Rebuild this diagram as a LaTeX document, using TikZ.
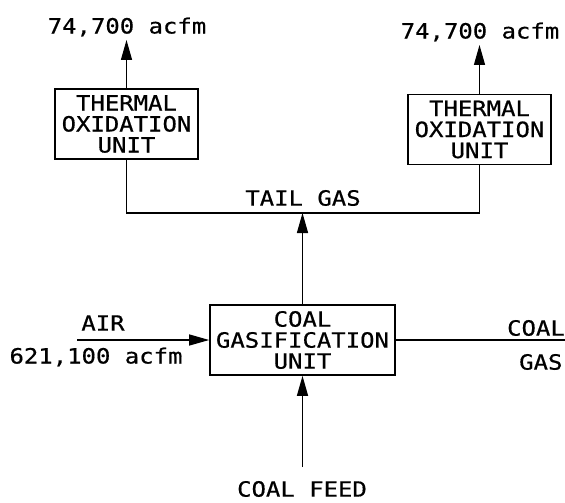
\documentclass[tikz,border=0pt]{standalone}
\usepackage{fontspec}
\newfontfamily\plotfont[FakeStretch=1.14,FakeBold=0.6]{DejaVu Sans Mono}
\usetikzlibrary{arrows.meta}
\begin{document}
\begin{tikzpicture}[x=1pt,y=-1pt,
  every node/.style={font=\plotfont\fontsize{21}{21}\selectfont, inner sep=0pt},
  unitbox/.style={draw, line width=1.6pt, align=center, minimum height=70pt},
  flow/.style={line width=1.3pt},
  arr/.style={flow, -{Triangle[length=20pt 0,width=11pt 0]}}]
\useasboundingbox (0,0) rectangle (565,503);
% boxes
\node[unitbox, minimum width=143pt] (tox1) at (126.5,124) {THERMAL\\OXIDATION\\UNIT};
\node[unitbox, minimum width=143pt] (tox2) at (479.5,129.5) {THERMAL\\OXIDATION\\UNIT};
\node[unitbox, minimum width=185pt] (cgu) at (302.5,340) {COAL\\GASIFICATION\\UNIT};
% labels
\node (out1) at (127,27) {74,700 acfm};
\node (out2) at (480,32) {74,700 acfm};
\node (tail) at (303,198) {TAIL GAS};
\node (air) at (103,323) {AIR};
\node (airflow) at (96,357) {621,100 acfm};
\node[anchor=east] (cg1) at (565,328) {COAL};
\node[anchor=west] (cg2) at (519,362) {GAS};
\node (feed) at (302,489) {COAL FEED};
% coordinates
\coordinate (top1) at (126.5,40);
\coordinate (top2) at (479.5,45);
\coordinate (j1) at (126.5,213);
\coordinate (j2) at (479.5,213);
\coordinate (jt) at (302.5,213);
\coordinate (airin) at (77,340);
\coordinate (gasout) at (565,340);
\coordinate (feedin) at (302.5,467);
% connectors
\draw[arr] (tox1.north) -- (top1);
\draw[arr] (tox2.north) -- (top2);
\draw[flow] (tox1.south) -- (j1) -- (j2) -- (tox2.south);
\draw[arr] (cgu.north) -- (jt);
\draw[arr] (airin) -- (cgu.west);
\draw[flow] (cgu.east) -- (gasout);
\draw[arr] (feedin) -- (cgu.south);
\end{tikzpicture}
\end{document}
